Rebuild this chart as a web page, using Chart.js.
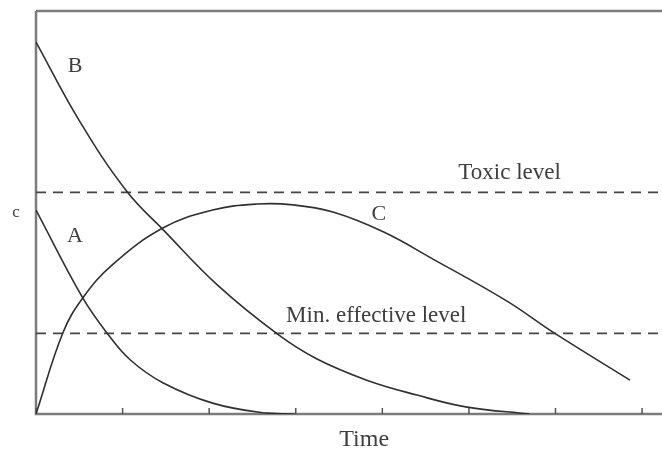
<!DOCTYPE html>
<html>
<head>
<meta charset="utf-8">
<script src="https://cdn.jsdelivr.net/npm/chart.js@4/dist/chart.umd.min.js"></script>
<style>
  html, body { margin: 0; padding: 0; background: #fff; }
  #chart { display: block; }
</style>
</head>
<body>
<canvas id="chart" width="662" height="452"></canvas>
<script>
const timeTicks = [0, 1, 2, 3, 4, 5, 6, 7];

const aTime = [0, 0.54, 0.82, 1.09, 1.47, 2.04, 2.62, 2.99];
const aConc = [5.06, 2.88, 2.01, 1.34, 0.77, 0.27, 0.03, 0];

const bTime = [0, 0.5, 1.05, 1.47, 2.1, 2.79, 3.24, 3.82, 4.40, 4.98, 5.70];
const bConc = [9.23, 7.28, 5.52, 4.57, 3.19, 1.98, 1.37, 0.84, 0.47, 0.17, 0];

const cTime = [0, 0.31, 0.54, 0.89, 1.47, 2.04, 2.55, 2.97, 3.43, 4.01, 4.58, 5.44, 5.97, 6.86];
const cConc = [0, 2.01, 2.88, 3.72, 4.62, 5.06, 5.21, 5.19, 5.01, 4.52, 3.85, 2.80, 2.03, 0.84];

const toxicLevel = 5.5;
const minEffectiveLevel = 2.0;

const xMax = 7.23;
const yMax = 10;

// where the text labels sit, in data units
const textLabels = [
  { text: "B", x: 0.45, y: 8.64 },
  { text: "A", x: 0.45, y: 4.42 },
  { text: "C", x: 3.96, y: 4.96 },
  { text: "Toxic level", x: 5.47, y: 5.98 },
  { text: "Min. effective level", x: 3.93, y: 2.43 }
];

const curveColor = "#303030";
const axisColor = "#7c7c7c";
const textColor = "#3e3e3e";
const serif = "'Liberation Serif', 'DejaVu Serif', serif";

function toPoints(xs, ys) {
  return xs.map((x, i) => ({ x: x, y: ys[i] }));
}

function curve(xs, ys) {
  return {
    data: toPoints(xs, ys),
    borderColor: curveColor,
    borderWidth: 1.6,
    pointRadius: 0,
    tension: 0.4,
    fill: false
  };
}

function level(value) {
  return {
    data: [{ x: 0, y: value }, { x: xMax, y: value }],
    borderColor: "#454545",
    borderWidth: 1.6,
    borderDash: [10, 7],
    pointRadius: 0,
    fill: false
  };
}

const framePlugin = {
  id: "frame",
  beforeDatasetsDraw(chart) {
    const ctx = chart.ctx;
    const area = chart.chartArea;
    const xScale = chart.scales.x;

    ctx.save();
    ctx.strokeStyle = axisColor;
    ctx.lineWidth = 2.5;

    ctx.beginPath();
    ctx.moveTo(area.left, area.top);
    ctx.lineTo(area.right, area.top);
    ctx.moveTo(area.left, area.top);
    ctx.lineTo(area.left, area.bottom);
    ctx.lineTo(area.right, area.bottom);
    ctx.stroke();

    // small inward tick marks
    ctx.lineWidth = 1.5;
    ctx.strokeStyle = "#555";
    timeTicks.forEach((t) => {
      const px = xScale.getPixelForValue(t);
      ctx.beginPath();
      ctx.moveTo(px, area.bottom);
      ctx.lineTo(px, area.bottom - 6);
      ctx.stroke();
    });
    ctx.restore();
  },
  afterDraw(chart) {
    const ctx = chart.ctx;
    const area = chart.chartArea;
    const xScale = chart.scales.x;
    const yScale = chart.scales.y;

    ctx.save();
    ctx.fillStyle = textColor;
    ctx.textAlign = "center";
    ctx.textBaseline = "middle";

    textLabels.forEach((label) => {
      ctx.font = (label.text.length > 1 ? "23px " : "22px ") + serif;
      ctx.fillText(
        label.text,
        xScale.getPixelForValue(label.x),
        yScale.getPixelForValue(label.y)
      );
    });

    ctx.font = "24px " + serif;
    ctx.fillText("Time", xScale.getPixelForValue(3.79), area.bottom + 26);

    ctx.font = "17px " + serif;
    ctx.fillText("c", 16, yScale.getPixelForValue(5.0));
    ctx.restore();
  }
};

new Chart(document.getElementById("chart"), {
  type: "line",
  data: {
    datasets: [
      curve(aTime, aConc),
      curve(bTime, bConc),
      curve(cTime, cConc),
      level(toxicLevel),
      level(minEffectiveLevel)
    ]
  },
  options: {
    responsive: false,
    animation: false,
    layout: {
      padding: { left: 36, top: 11, right: 0, bottom: 38 }
    },
    plugins: {
      legend: { display: false },
      tooltip: { enabled: false }
    },
    scales: {
      x: { type: "linear", min: 0, max: xMax, display: false },
      y: { type: "linear", min: 0, max: yMax, display: false }
    }
  },
  plugins: [framePlugin]
});
</script>
</body>
</html>
